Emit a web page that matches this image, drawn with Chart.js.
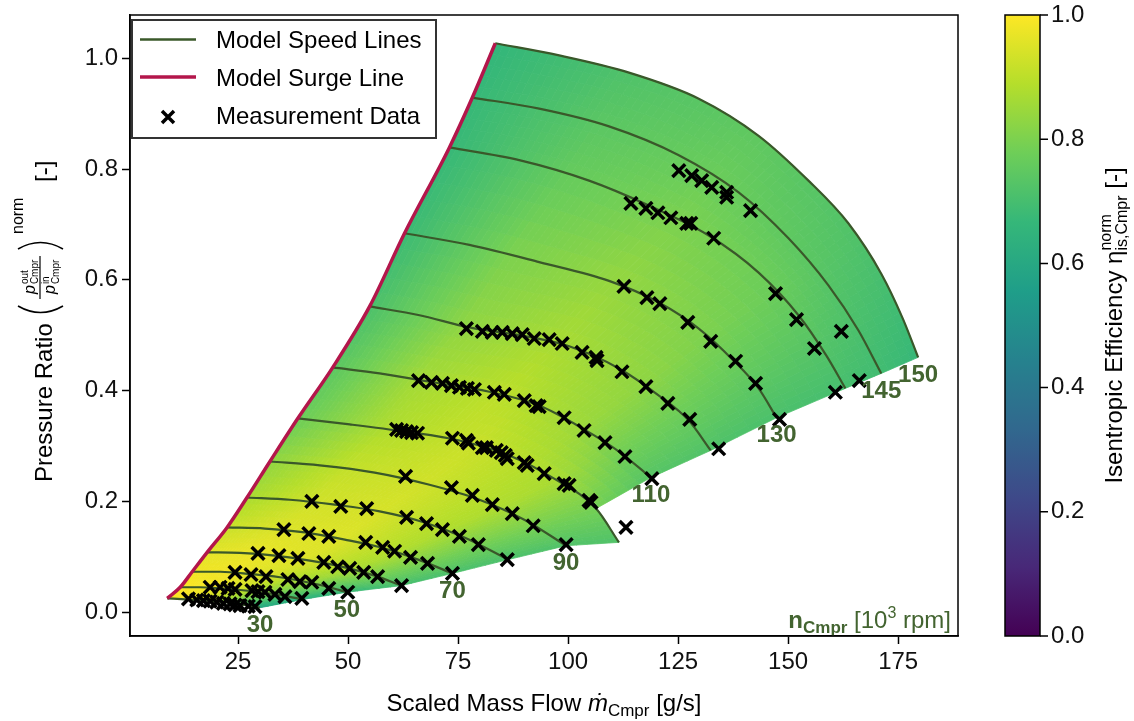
<!DOCTYPE html>
<html>
<head>
<meta charset="utf-8">
<script src="https://cdn.jsdelivr.net/npm/chart.js@4.4.1/dist/chart.umd.min.js"></script>
<style>
  html, body { margin: 0; padding: 0; background: #fff; }
</style>
</head>
<body>
<canvas id="map" width="1134" height="721"></canvas>
<script>
// compressor map: speed lines, surge line, measured points, efficiency field

const speeds = [30, 40, 50, 60, 70, 80, 90, 100, 110, 120, 130, 140, 145, 150];
const labeledSpeeds = [30, 50, 70, 90, 110, 130, 145, 150];

// model speed lines, surge end first, choke end last
const speedFlow = [
  [8.91, 12.99, 17.52, 22.06, 25.45, 28.17, 29.99],
  [11.86, 16.39, 20.92, 25.45, 29.99, 35.20, 39.73],
  [14.58, 20.92, 27.72, 34.52, 40.18, 45.39, 49.70],
  [17.98, 25.45, 33.39, 41.32, 49.25, 56.05, 62.16],
  [22.51, 31.12, 40.18, 49.25, 58.31, 66.24, 73.72],
  [27.04, 36.78, 46.98, 57.18, 67.38, 76.44, 86.41],
  [32.25, 43.58, 56.05, 68.51, 79.84, 90.04, 99.55],
  [38.60, 50.38, 62.84, 75.31, 86.64, 96.83, 106.35, 111.56],
  [46.53, 57.18, 68.51, 82.10, 93.43, 103.63, 111.56, 118.81],
  [54.91, 66.24, 77.57, 88.90, 100.23, 111.56, 120.63, 127.42, 132.41],
  [62.84, 77.57, 93.43, 109.30, 120.63, 129.69, 137.62, 143.29, 147.37],
  [73.04, 88.90, 104.76, 118.36, 131.96, 143.29, 152.35, 158.69, 163.00],
  [78.25, 93.43, 109.30, 125.16, 138.75, 150.08, 159.15, 165.95, 171.16],
  [83.46, 97.97, 113.83, 129.69, 143.29, 154.62, 163.68, 171.16, 176.06, 179.54]
];
const speedPR = [
  [0.025, 0.023, 0.021, 0.018, 0.014, 0.011, 0.008],
  [0.045, 0.045, 0.043, 0.040, 0.036, 0.030, 0.023],
  [0.073, 0.073, 0.069, 0.063, 0.055, 0.046, 0.036],
  [0.108, 0.107, 0.102, 0.093, 0.081, 0.066, 0.048],
  [0.153, 0.151, 0.144, 0.131, 0.115, 0.094, 0.070],
  [0.207, 0.203, 0.194, 0.182, 0.162, 0.135, 0.095],
  [0.272, 0.265, 0.252, 0.230, 0.203, 0.167, 0.120],
  [0.350, 0.339, 0.326, 0.310, 0.283, 0.241, 0.187, 0.126],
  [0.442, 0.431, 0.416, 0.398, 0.373, 0.330, 0.290, 0.243],
  [0.552, 0.536, 0.514, 0.500, 0.480, 0.440, 0.391, 0.346, 0.292],
  [0.684, 0.663, 0.632, 0.598, 0.559, 0.512, 0.454, 0.404, 0.351],
  [0.839, 0.816, 0.779, 0.734, 0.680, 0.613, 0.536, 0.463, 0.404],
  [0.929, 0.909, 0.877, 0.825, 0.758, 0.675, 0.590, 0.509, 0.431],
  [1.027, 1.005, 0.974, 0.927, 0.860, 0.779, 0.702, 0.611, 0.530, 0.460]
];
// efficiency at 0, 25, 50, 75 and 100 % along each speed line
const effAlong = [
  [1.00, 0.97, 0.88, 0.75, 0.60],
  [1.00, 0.98, 0.92, 0.80, 0.64],
  [0.98, 0.98, 0.94, 0.84, 0.67],
  [0.96, 0.97, 0.95, 0.87, 0.70],
  [0.92, 0.95, 0.95, 0.88, 0.71],
  [0.87, 0.93, 0.94, 0.88, 0.71],
  [0.83, 0.91, 0.93, 0.88, 0.72],
  [0.77, 0.88, 0.92, 0.87, 0.72],
  [0.74, 0.86, 0.90, 0.85, 0.73],
  [0.71, 0.83, 0.87, 0.83, 0.72],
  [0.68, 0.80, 0.84, 0.80, 0.71],
  [0.67, 0.76, 0.80, 0.77, 0.70],
  [0.67, 0.74, 0.77, 0.74, 0.69],
  [0.66, 0.72, 0.75, 0.72, 0.67]
];
// the map above this speed line stops one node before its end
const notchSpeed = 100;

const measFlow = [
  13.74, 15.64, 17.14, 18.66, 20.17, 21.67, 23.19, 24.32, 25.45, 27.34, 28.85,
  18.66, 20.92, 22.73, 24.32, 28.17, 29.53, 31.12, 33.39, 35.65, 39.50,
  24.32, 27.95, 31.35, 36.33, 39.05, 41.77, 45.62, 49.93,
  29.53, 34.29, 38.60, 44.49, 47.66, 50.38, 53.55, 56.72, 62.16,
  35.42, 41.09, 45.62, 54.01, 57.86, 60.58, 64.20, 68.06, 73.72,
  41.77, 48.34, 54.23, 63.30, 67.83, 71.45, 75.31, 79.61, 86.18,
  63.07, 73.49, 78.25, 82.79, 87.32, 92.07, 99.55,
  61.03, 62.16, 63.30, 64.43, 65.79, 73.72, 76.89, 77.35, 80.52, 81.43, 83.69,
  84.82, 85.73, 86.18, 90.04, 90.71, 94.57, 99.10, 100.23, 104.76, 105.22, 113.15,
  66.02, 68.96, 71.45, 73.49, 75.31, 77.12, 78.71, 83.24, 85.50, 90.04, 92.75,
  93.43, 99.10, 103.63, 108.39, 112.92, 119.04,
  76.89, 80.52, 82.79, 85.05, 87.32, 89.58, 92.30, 95.70, 98.65, 103.18, 106.35,
  106.58, 112.24, 117.68, 122.67, 127.65, 134.22,
  112.70, 117.91, 120.85, 127.20, 132.41, 138.07, 142.61, 148.04,
  114.28, 117.68, 120.40, 123.35, 126.97, 127.88, 133.09, 147.14, 151.90, 155.98, 160.73,
  125.16, 128.10, 130.37, 132.64, 136.03, 136.03, 141.47, 162.09, 166.17
];
const measPR = [
  0.024, 0.022, 0.021, 0.020, 0.018, 0.016, 0.015, 0.013, 0.012, 0.011, 0.010,
  0.045, 0.045, 0.043, 0.041, 0.039, 0.037, 0.036, 0.032, 0.028, 0.025,
  0.072, 0.068, 0.064, 0.059, 0.055, 0.054, 0.043, 0.036,
  0.106, 0.102, 0.097, 0.090, 0.082, 0.079, 0.072, 0.064, 0.048,
  0.149, 0.142, 0.137, 0.126, 0.117, 0.110, 0.099, 0.088, 0.070,
  0.200, 0.191, 0.187, 0.171, 0.160, 0.149, 0.137, 0.122, 0.095,
  0.245, 0.225, 0.211, 0.194, 0.178, 0.156, 0.122,
  0.330, 0.328, 0.326, 0.324, 0.323, 0.314, 0.310, 0.305, 0.297, 0.297, 0.292,
  0.288, 0.283, 0.277, 0.270, 0.265, 0.250, 0.232, 0.229, 0.202, 0.198, 0.153,
  0.418, 0.415, 0.413, 0.409, 0.406, 0.404, 0.402, 0.397, 0.393, 0.382, 0.373,
  0.371, 0.351, 0.328, 0.306, 0.281, 0.241,
  0.512, 0.507, 0.505, 0.505, 0.503, 0.501, 0.494, 0.492, 0.485, 0.469, 0.460,
  0.454, 0.434, 0.407, 0.377, 0.348, 0.295,
  0.588, 0.568, 0.557, 0.523, 0.489, 0.453, 0.413, 0.348,
  0.738, 0.729, 0.721, 0.712, 0.702, 0.702, 0.675, 0.575, 0.528, 0.476, 0.397,
  0.797, 0.788, 0.779, 0.767, 0.758, 0.749, 0.725, 0.507, 0.418
];

const flowTicks = [25, 50, 75, 100, 125, 150, 175];
const prTicks = [0, 0.2, 0.4, 0.6, 0.8, 1.0];
const effTicks = [0, 0.2, 0.4, 0.6, 0.8, 1.0];

const FONT = '"Liberation Sans", Arial, Helvetica, sans-serif';
const LINE_GREEN = '#3a582a';
const LABEL_GREEN = '#436430';
const SURGE_RED = '#b3164b';
const viridisStops = ['#440154', '#482878', '#3e4989', '#31688e', '#26828e',
                      '#1f9e89', '#35b779', '#6ece58', '#b5de2b', '#fde725'];

function hexRgb(hex) {
  const n = parseInt(hex.replace('#', ''), 16);
  return [(n >> 16) & 255, (n >> 8) & 255, n & 255];
}
const viridisRgb = viridisStops.map(hexRgb);

function viridis(v) {
  v = Math.max(0, Math.min(1, v));
  const f = v * (viridisRgb.length - 1);
  const i = Math.min(viridisRgb.length - 2, Math.floor(f));
  const t = f - i;
  const a = viridisRgb[i], b = viridisRgb[i + 1];
  return `rgb(${Math.round(a[0] + (b[0] - a[0]) * t)},${Math.round(a[1] + (b[1] - a[1]) * t)},${Math.round(a[2] + (b[2] - a[2]) * t)})`;
}

function effAt(li, frac) {
  const e = effAlong[li];
  const f = Math.max(0, Math.min(1, frac)) * (e.length - 1);
  const j = Math.min(e.length - 2, Math.floor(f));
  return e[j] + (e[j + 1] - e[j]) * (f - j);
}

// follow the bezier path that chart.js built for a speed line
function tracePath(chart, di) {
  const meta = chart.getDatasetMeta(di);
  meta.dataset.updateControlPoints(chart.chartArea, 'x');
  const p = meta.data;
  const pts = [{ x: p[0].x, y: p[0].y, len: 0 }];
  const nodeLen = [0];
  let len = 0;
  for (let j = 0; j < p.length - 1; j++) {
    const a = p[j], b = p[j + 1];
    const c1x = a.cp2x ?? a.x, c1y = a.cp2y ?? a.y;
    const c2x = b.cp1x ?? b.x, c2y = b.cp1y ?? b.y;
    for (let s = 1; s <= 16; s++) {
      const t = s / 16, mt = 1 - t;
      const x = mt * mt * mt * a.x + 3 * mt * mt * t * c1x + 3 * mt * t * t * c2x + t * t * t * b.x;
      const y = mt * mt * mt * a.y + 3 * mt * mt * t * c1y + 3 * mt * t * t * c2y + t * t * t * b.y;
      const prev = pts[pts.length - 1];
      len += Math.hypot(x - prev.x, y - prev.y);
      pts.push({ x, y, len });
    }
    nodeLen.push(len);
  }
  return { pts, nodeLen, total: len };
}

function pointAt(path, L) {
  const pts = path.pts;
  let lo = 0, hi = pts.length - 1;
  if (L <= 0) return pts[0];
  if (L >= pts[hi].len) return pts[hi];
  while (hi - lo > 1) {
    const mid = (lo + hi) >> 1;
    if (pts[mid].len < L) lo = mid; else hi = mid;
  }
  const a = pts[lo], b = pts[hi];
  const t = (L - a.len) / (b.len - a.len || 1);
  return { x: a.x + (b.x - a.x) * t, y: a.y + (b.y - a.y) * t };
}

const effMeshPlugin = {
  id: 'effMesh',
  beforeDatasetsDraw(chart) {
    const ctx = chart.ctx;
    const paths = speeds.map((s, i) => tracePath(chart, i));
    const K = 70, M = 5;
    ctx.save();
    ctx.lineWidth = 0.8;
    ctx.lineJoin = 'round';
    for (let i = 0; i < speeds.length - 1; i++) {
      const lo = paths[i], hi = paths[i + 1];
      const loEnd = speeds[i] === notchSpeed ? lo.nodeLen[lo.nodeLen.length - 2] : lo.total;
      for (let k = 0; k < K; k++) {
        const u0 = k / K, u1 = (k + 1) / K, um = (u0 + u1) / 2;
        const a0 = pointAt(lo, u0 * loEnd), a1 = pointAt(lo, u1 * loEnd);
        const b0 = pointAt(hi, u0 * hi.total), b1 = pointAt(hi, u1 * hi.total);
        const eLo = effAt(i, um * loEnd / lo.total), eHi = effAt(i + 1, um);
        for (let m = 0; m < M; m++) {
          const v0 = m / M, v1 = (m + 1) / M, vm = (v0 + v1) / 2;
          const col = viridis(eLo + (eHi - eLo) * vm);
          ctx.beginPath();
          ctx.moveTo(a0.x + (b0.x - a0.x) * v0, a0.y + (b0.y - a0.y) * v0);
          ctx.lineTo(a1.x + (b1.x - a1.x) * v0, a1.y + (b1.y - a1.y) * v0);
          ctx.lineTo(a1.x + (b1.x - a1.x) * v1, a1.y + (b1.y - a1.y) * v1);
          ctx.lineTo(a0.x + (b0.x - a0.x) * v1, a0.y + (b0.y - a0.y) * v1);
          ctx.closePath();
          ctx.fillStyle = col;
          ctx.strokeStyle = col;
          ctx.fill();
          ctx.stroke();
        }
      }
    }
    ctx.restore();
  }
};

function runWidth(ctx, r) {
  ctx.font = r.font;
  if (r.stack) return Math.max(...r.stack.map(s => ctx.measureText(s.t).width));
  return ctx.measureText(r.t).width;
}
function runsWidth(ctx, runs) {
  return runs.reduce((w, r) => w + runWidth(ctx, r) + (r.gap || 0), 0);
}
function drawRuns(ctx, x, y, runs) {
  for (const r of runs) {
    const w = runWidth(ctx, r);
    ctx.font = r.font;
    if (r.stack) r.stack.forEach(s => ctx.fillText(s.t, x, y + s.dy));
    else ctx.fillText(r.t, x, y + (r.dy || 0));
    x += w + (r.gap || 0);
  }
  return x;
}

const decorPlugin = {
  id: 'decor',
  afterDraw(chart) {
    const ctx = chart.ctx;
    const area = chart.chartArea;
    const xs = chart.scales.x, ys = chart.scales.y, cb = chart.scales.cb;
    ctx.save();
    ctx.textAlign = 'left';
    ctx.textBaseline = 'alphabetic';

    // speed labels at the choke end of the lines
    ctx.fillStyle = LABEL_GREEN;
    ctx.font = 'bold 24px ' + FONT;
    ctx.textAlign = 'center';
    ctx.textBaseline = 'middle';
    labeledSpeeds.forEach(s => {
      const i = speeds.indexOf(s);
      const f = speedFlow[i], p = speedPR[i];
      const px = xs.getPixelForValue(f[f.length - 1]);
      const py = ys.getPixelForValue(p[p.length - 1]);
      ctx.fillText(String(s), px, py + 18);
    });
    ctx.textAlign = 'left';
    ctx.textBaseline = 'alphabetic';

    // speed unit note in the lower right corner
    const nRuns = [
      { t: 'n', font: 'bold 24px ' + FONT },
      { t: 'Cmpr', font: 'bold 17px ' + FONT, dy: 5 },
      { t: ' [10', font: '24px ' + FONT },
      { t: '3', font: '16px ' + FONT, dy: -10 },
      { t: ' rpm]', font: '24px ' + FONT }
    ];
    drawRuns(ctx, area.right - 7 - runsWidth(ctx, nRuns), area.bottom - 8, nRuns);

    // plot frame
    ctx.strokeStyle = '#000';
    ctx.lineWidth = 1.5;
    ctx.strokeRect(area.left, area.top, area.right - area.left, area.bottom - area.top);

    // legend
    ctx.fillStyle = 'rgba(255,255,255,0.85)';
    ctx.fillRect(132, 20, 304, 118);
    ctx.strokeStyle = '#333';
    ctx.lineWidth = 2;
    ctx.strokeRect(132, 20, 304, 118);
    const ds = chart.data.datasets;
    const legendRows = [
      { label: ds[0].label, color: LINE_GREEN, width: 2.5, y: 39.5, base: 47.5 },
      { label: ds[speeds.length].label, color: SURGE_RED, width: 3.5, y: 77, base: 86 },
      { label: ds[speeds.length + 1].label, marker: true, y: 117, base: 123.5 }
    ];
    legendRows.forEach(r => {
      if (r.marker) {
        ctx.strokeStyle = '#000';
        ctx.lineWidth = 3.5;
        ctx.beginPath();
        ctx.moveTo(162, r.y - 6); ctx.lineTo(174, r.y + 6);
        ctx.moveTo(174, r.y - 6); ctx.lineTo(162, r.y + 6);
        ctx.stroke();
      } else {
        ctx.strokeStyle = r.color;
        ctx.lineWidth = r.width;
        ctx.beginPath();
        ctx.moveTo(140, r.y); ctx.lineTo(196, r.y);
        ctx.stroke();
      }
      ctx.fillStyle = '#000';
      ctx.font = '24px ' + FONT;
      ctx.fillText(r.label, 216, r.base);
    });

    // colour bar
    const cbLeft = 1005, cbRight = 1040;
    const yTop = cb.getPixelForValue(1), yBot = cb.getPixelForValue(0);
    const grad = ctx.createLinearGradient(0, yBot, 0, yTop);
    viridisStops.forEach((c, i) => grad.addColorStop(i / (viridisStops.length - 1), c));
    ctx.fillStyle = grad;
    ctx.fillRect(cbLeft, yTop, cbRight - cbLeft, yBot - yTop);
    ctx.strokeStyle = '#000';
    ctx.lineWidth = 1.5;
    ctx.strokeRect(cbLeft, yTop, cbRight - cbLeft, yBot - yTop);
    ctx.beginPath();
    effTicks.forEach(v => {
      const py = cb.getPixelForValue(v);
      ctx.moveTo(cbRight, py); ctx.lineTo(cbRight + 8, py);
    });
    ctx.stroke();

    ctx.fillStyle = '#000';
    // x axis title
    const xRuns = [
      { t: 'Scaled Mass Flow ', font: '24px ' + FONT },
      { t: '\u1E41', font: 'italic 24px ' + FONT },
      { t: 'Cmpr', font: '17px ' + FONT, dy: 5 },
      { t: ' [g/s]', font: '24px ' + FONT }
    ];
    drawRuns(ctx, (area.left + area.right) / 2 - runsWidth(ctx, xRuns) / 2, 711, xRuns);

    // colour bar title
    const cRuns = [
      { t: 'Isentropic Efficiency ', font: '24px ' + FONT },
      { t: '\u03B7', font: '24px ' + FONT },
      { stack: [{ t: 'norm', dy: -11 }, { t: 'is,Cmpr', dy: 5 }], font: '16px ' + FONT },
      { t: ' [-]', font: '24px ' + FONT }
    ];
    const cw = runsWidth(ctx, cRuns);
    ctx.save();
    ctx.translate(1122, (area.top + area.bottom) / 2 + cw / 2);
    ctx.rotate(-Math.PI / 2);
    drawRuns(ctx, 0, 0, cRuns);
    ctx.restore();

    // y axis title with the pressure fraction
    ctx.save();
    ctx.translate(52, 482);
    ctx.rotate(-Math.PI / 2);
    ctx.font = '24px ' + FONT;
    ctx.fillText('Pressure Ratio', 0, 0);
    ctx.strokeStyle = '#000';
    ctx.lineWidth = 1.6;
    ctx.beginPath();
    ctx.moveTo(176, -34); ctx.quadraticCurveTo(163, -11.5, 176, 11);
    ctx.moveTo(233, -34); ctx.quadraticCurveTo(246, -11.5, 233, 11);
    ctx.stroke();
    ctx.lineWidth = 1.2;
    ctx.beginPath();
    ctx.moveTo(183, -12); ctx.lineTo(226, -12);
    ctx.stroke();
    const frac = (x0, base) => {
      ctx.font = 'italic 16px ' + FONT;
      ctx.fillText('p', x0, base);
      const pw = ctx.measureText('p').width + 1;
      return x0 + pw;
    };
    let nx = frac(188, -17);
    ctx.font = '10px ' + FONT;
    ctx.fillText('out', nx, -24);
    ctx.fillText('Cmpr', nx, -14);
    let dx = frac(188, 3);
    ctx.font = '10px ' + FONT;
    ctx.fillText('in', dx, -3);
    ctx.fillText('Cmpr', dx, 7);
    ctx.font = '16px ' + FONT;
    ctx.fillText('norm', 248, -29);
    ctx.font = '24px ' + FONT;
    ctx.fillText('[-]', 300, 0);
    ctx.restore();

    ctx.restore();
  }
};

const speedSets = speeds.map((s, i) => ({
  label: 'Model Speed Lines',
  data: speedFlow[i].map((f, j) => ({ x: f, y: speedPR[i][j] })),
  showLine: true,
  borderColor: LINE_GREEN,
  borderWidth: 2.2,
  pointRadius: 0,
  cubicInterpolationMode: 'monotone',
  fill: false,
  order: 2
}));

const surgeSet = {
  label: 'Model Surge Line',
  data: speedFlow.map((f, i) => ({ x: f[0], y: speedPR[i][0] })),
  showLine: true,
  borderColor: SURGE_RED,
  borderWidth: 3.5,
  pointRadius: 0,
  cubicInterpolationMode: 'monotone',
  fill: false,
  order: 1
};

const measSet = {
  label: 'Measurement Data',
  data: measFlow.map((f, i) => ({ x: f, y: measPR[i] })),
  showLine: false,
  pointStyle: 'crossRot',
  pointRadius: 9,
  pointBorderWidth: 3.5,
  pointBorderColor: '#000',
  pointBackgroundColor: '#000',
  order: 0
};

const tickFont = { family: FONT, size: 24 };

// fixed box sizes, no extra padding from edge tick labels
function fixVertical(width) {
  return axis => { axis.width = width; axis.paddingTop = 0; axis.paddingBottom = 0; };
}

new Chart(document.getElementById('map'), {
  type: 'scatter',
  data: { datasets: [...speedSets, surgeSet, measSet] },
  options: {
    responsive: false,
    devicePixelRatio: 1,
    animation: false,
    layout: { padding: { top: 15, left: 0, right: 0, bottom: 0 } },
    plugins: {
      legend: { display: false },
      tooltip: { enabled: false }
    },
    scales: {
      x: {
        type: 'linear',
        position: 'bottom',
        min: 0.45,
        max: 188.6,
        afterBuildTicks: axis => { axis.ticks = flowTicks.map(v => ({ value: v })); },
        afterFit: axis => { axis.height = 85; axis.paddingLeft = 0; axis.paddingRight = 0; },
        grid: { drawOnChartArea: false, drawTicks: true, tickLength: 8, tickColor: '#000', tickWidth: 1.5 },
        border: { display: true, color: '#000', width: 1.5 },
        ticks: { font: tickFont, color: '#111', padding: 4, maxRotation: 0, callback: v => String(v) }
      },
      y: {
        type: 'linear',
        position: 'left',
        min: -0.043,
        max: 1.078,
        afterBuildTicks: axis => { axis.ticks = prTicks.map(v => ({ value: v })); },
        afterFit: fixVertical(130),
        grid: { drawOnChartArea: false, drawTicks: true, tickLength: 8, tickColor: '#000', tickWidth: 1.5 },
        border: { display: true, color: '#000', width: 1.5 },
        ticks: { font: tickFont, color: '#111', padding: 4, callback: v => v.toFixed(1) }
      },
      cb: {
        type: 'linear',
        position: 'right',
        min: 0,
        max: 1,
        afterBuildTicks: axis => { axis.ticks = effTicks.map(v => ({ value: v })); },
        afterFit: fixVertical(176),
        grid: { display: false, drawTicks: false },
        border: { display: false },
        ticks: { font: tickFont, color: '#111', padding: 93, callback: v => v.toFixed(1) }
      }
    }
  },
  plugins: [effMeshPlugin, decorPlugin]
});
</script>
</body>
</html>
